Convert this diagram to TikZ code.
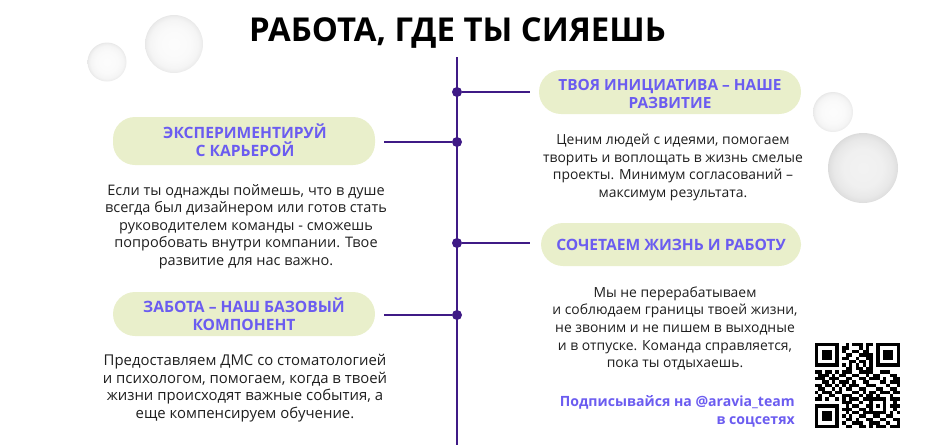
\documentclass[tikz,border=0pt]{standalone}
\usepackage{fontspec}
\setmainfont{Open Sans}
\definecolor{pill}{HTML}{E9EFCB}
\definecolor{ink}{HTML}{1E1E1E}
\definecolor{violet}{HTML}{6B5CF0}
\definecolor{spine}{HTML}{3F1A86}
\pgfdeclareradialshading{softball}{\pgfpoint{0bp}{0bp}}{
  color(0bp)=(black!1); color(14bp)=(black!2); color(21bp)=(black!4); color(24bp)=(black!7); color(25bp)=(black!9); color(50bp)=(black!9)}
\pgfdeclareradialshading{softballgrey}{\pgfpoint{0bp}{0bp}}{
  color(0bp)=(black!5); color(14bp)=(black!6); color(21bp)=(black!9); color(24bp)=(black!12); color(25bp)=(black!14); color(50bp)=(black!14)}
\begin{document}
\begin{tikzpicture}[x=1pt,y=-1pt,
  pillbox/.style={fill=pill,rounded corners=22pt,minimum width=262pt,inner sep=0pt,align=center,text=violet,font=\fontsize{15.6}{18}\selectfont\bfseries},
  bodytext/.style={align=center,text=ink,inner sep=0pt,font=\fontsize{#1}{17.6}\selectfont},
  link/.style={draw=spine,line width=1.8pt},
  dot/.style={circle,fill=spine,inner sep=0pt,minimum size=10pt}]
\useasboundingbox (0,0) rectangle (930,445);
% spheres
\shade[shading=softball] (107,62) circle (19.5);
\shade[shading=softball] (174,44) circle (29);
\shade[shading=softball] (833,112) circle (20);
\shade[shading=softballgrey] (863,168) circle (35);
% title
\node[inner sep=0pt,text=black,font=\fontsize{32.9}{36}\selectfont\bfseries] (title) at (457.5,33) {РАБОТА, ГДЕ ТЫ СИЯЕШЬ};
% spine
\coordinate (top) at (457,57);
\coordinate (bot) at (457,445);
\draw[link] (top) -- (bot);
\node[dot] (d1) at (457,92) {};
\node[dot] (d2) at (457,142) {};
\node[dot] (d3) at (457,243) {};
\node[dot] (d4) at (457,315) {};
\coordinate (e1) at (530,92);
\coordinate (e2) at (384,142);
\coordinate (e3) at (530,243);
\coordinate (e4) at (384,315);
\draw[link] (d1) -- (e1);
\draw[link] (d2) -- (e2);
\draw[link] (d3) -- (e3);
\draw[link] (d4) -- (e4);
% pills
\node[pillbox,minimum height=48pt] (p2) at (244,141) {};
\node[text=violet,align=center,inner sep=0pt,font=\fontsize{15.6}{18}\selectfont\bfseries] (p2t) at (245,140.5) {ЭКСПЕРИМЕНТИРУЙ\\С КАРЬЕРОЙ};
\node[pillbox,minimum height=44pt] (p4) at (244,314) {ЗАБОТА – НАШ БАЗОВЫЙ\\КОМПОНЕНТ};
\node[pillbox,minimum height=44pt] (p1) at (670,92) {};
\node[text=violet,align=center,inner sep=0pt,font=\fontsize{15.4}{18}\selectfont\bfseries] (p1t) at (670,94) {ТВОЯ ИНИЦИАТИВА – НАШЕ\\РАЗВИТИЕ};
\node[pillbox,minimum height=43pt,minimum width=260pt] (p3) at (671,244.5) {СОЧЕТАЕМ ЖИЗНЬ И РАБОТУ};
% body
\node[bodytext=14.5] (t2) at (246,226.5) {Если ты однажды поймешь, что в душе\\всегда был дизайнером или готов стать\\руководителем команды - сможешь\\попробовать внутри компании. Твое\\развитие для нас важно.};
\node[bodytext=14.9] (t4) at (245,388) {Предоставляем ДМС со стоматологией\\и психологом, помогаем, когда в твоей\\жизни происходят важные события, а\\еще компенсируем обучение.};
\node[bodytext=13.9] (t1) at (673,167.5) {Ценим людей с идеями, помогаем\\творить и воплощать в жизнь смелые\\проекты. Минимум согласований –\\максимум результата.};
\node[bodytext=13.9] (t3) at (675,328.5) {Мы не перерабатываем\\и соблюдаем границы твоей жизни,\\не звоним и не пишем в выходные\\и в отпуске. Команда справляется,\\пока ты отдыхаешь.};
\node[inner sep=0pt,align=right,anchor=east,text=violet,font=\fontsize{14.1}{17.8}\selectfont\bfseries] (sub) at (795,411) {Подписывайся на @aravia\_team\\в соцсетях};
% QR
\foreach \r/\runs in {
0/{0/6,9/9,11/13,15/16,18/24},
1/{0/0,6/6,8/9,13/13,15/15,18/18,24/24},
2/{0/0,2/4,6/6,8/8,11/12,14/15,18/18,20/22,24/24},
3/{0/0,2/4,6/6,9/10,13/16,18/18,20/22,24/24},
4/{0/0,2/4,6/6,8/9,12/12,15/16,18/18,20/22,24/24},
5/{0/0,6/6,10/11,13/14,16/16,18/18,24/24},
6/{0/6,8/8,10/10,12/12,14/14,16/16,18/24},
7/{9/10,12/13,15/16},
8/{0/1,3/4,6/6,8/10,13/16,19/21},
9/{1/3,5/5,7/8,11/12,15/15,17/18,22/23},
10/{0/2,4/6,9/10,13/14,16/18,20/20,23/24},
11/{2/3,5/5,7/9,11/11,14/15,19/20,22/24},
12/{0/1,3/4,6/6,8/8,10/12,15/17,21/21,24/24},
13/{1/2,5/5,7/7,9/10,13/14,18/19,22/23},
14/{0/0,2/4,6/7,11/12,14/14,16/17,19/21,23/24},
15/{1/1,4/5,8/10,13/13,15/16,18/18,22/22},
16/{0/1,3/3,6/6,8/8,10/12,14/20,22/24},
17/{8/10,13/13,16/16,20/20,23/23},
18/{0/6,9/9,11/12,15/16,18/18,20/20,22/24},
19/{0/0,6/6,8/10,13/14,16/16,20/20,23/23},
20/{0/0,2/4,6/6,9/9,11/12,14/20,22/22,24/24},
21/{0/0,2/4,6/6,8/8,10/10,13/14,17/18,21/22},
22/{0/0,2/4,6/6,9/10,12/12,15/16,19/20,23/24},
23/{0/0,6/6,8/8,11/13,16/18,21/21,24/24},
24/{0/6,9/10,13/14,16/16,18/20,22/24}}{
  \foreach \a/\b in \runs {
    \fill[black] ({815+\a*3.4},{343+\r*3.4}) rectangle ({815+(\b+1)*3.4},{343+(\r+1)*3.4});
  }
}
\end{tikzpicture}
\end{document}
